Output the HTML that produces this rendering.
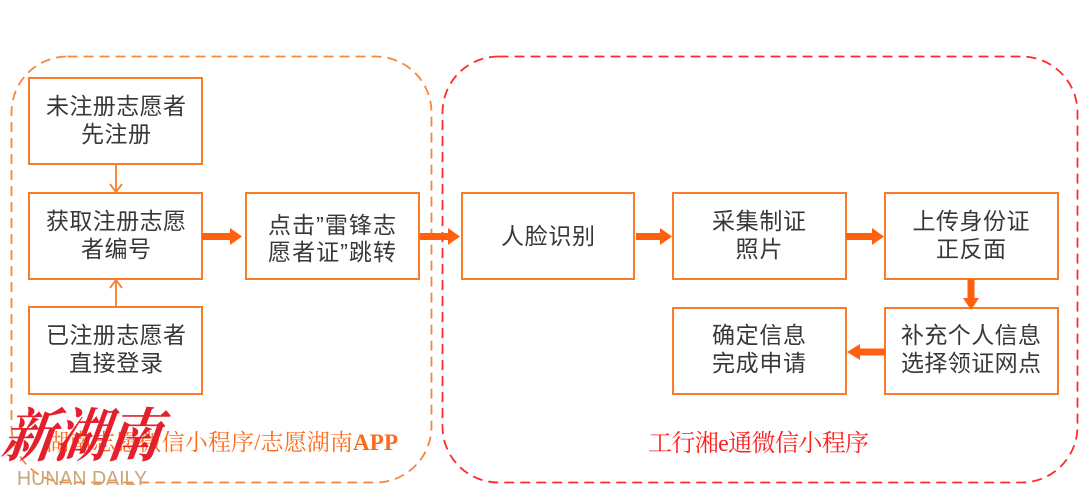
<!DOCTYPE html>
<html><head><meta charset="utf-8"><style>
html,body{margin:0;padding:0;background:#fff;}
svg{display:block;}
.bt{font-family:"Liberation Sans","Noto Sans CJK SC",sans-serif;font-size:23px;fill:#383838;}
</style></head><body>
<svg width="1080" height="486" viewBox="0 0 1080 486" xmlns="http://www.w3.org/2000/svg">
<rect width="1080" height="486" fill="#fff"/>
<!-- containers -->
<rect x="11.5" y="56.5" width="420" height="426" rx="56" ry="56" fill="none" stroke="#F5883A" stroke-width="1.8" stroke-dasharray="10,6"/>
<rect x="442.5" y="56.5" width="635" height="426" rx="56" ry="56" fill="none" stroke="#FF2A2A" stroke-width="1.8" stroke-dasharray="10,6"/>

<!-- boxes -->
<g fill="#fff" stroke="#F97C2A" stroke-width="2">
<rect x="29" y="78" width="173" height="86"/>
<rect x="29" y="193" width="173" height="86"/>
<rect x="29" y="307" width="173" height="87"/>
<rect x="246" y="193" width="173" height="86"/>
<rect x="462" y="193" width="172" height="86"/>
<rect x="673" y="193" width="173" height="86"/>
<rect x="885" y="193" width="173" height="86"/>
<rect x="885" y="308" width="173" height="86"/>
<rect x="673" y="308" width="173" height="86"/>
</g>

<!-- thin arrows -->
<g stroke="#F97C2A" stroke-width="1.8" fill="none">
<line x1="116" y1="164" x2="116" y2="192"/>
<polyline points="110,184 116,192 122,184"/>
<line x1="116" y1="307" x2="116" y2="280"/>
<polyline points="110,288 116,280 122,288"/>
</g>

<!-- thick arrows -->
<g fill="#FF6010">
<rect x="202" y="233" width="30" height="7"/><polygon points="230,228 242,236.5 230,245"/>
<rect x="420" y="233" width="30" height="7"/><polygon points="448,228 460,236.5 448,245"/>
<rect x="636" y="233" width="26" height="7"/><polygon points="660,228 672,236.5 660,245"/>
<rect x="846" y="233" width="28" height="7"/><polygon points="872,228 884,236.5 872,245"/>
<rect x="967.5" y="279" width="7" height="21"/><polygon points="963,298 979,298 971,310"/>
<rect x="858" y="348.5" width="27" height="7"/><polygon points="860,344 847,352 860,360"/>
</g>

<!-- box text -->
<g class="bt" text-anchor="middle">
<text x="116" y="114" textLength="140" lengthAdjust="spacing">未注册志愿者</text>
<text x="116" y="142" textLength="70" lengthAdjust="spacing">先注册</text>
<text x="116" y="229" textLength="140" lengthAdjust="spacing">获取注册志愿</text>
<text x="116" y="257" textLength="70" lengthAdjust="spacing">者编号</text>
<text x="116" y="343" textLength="140" lengthAdjust="spacing">已注册志愿者</text>
<text x="116" y="371" textLength="94" lengthAdjust="spacing">直接登录</text>
<text x="332" y="233" textLength="128" lengthAdjust="spacing">点击”雷锋志</text>
<text x="332" y="260" textLength="128" lengthAdjust="spacing">愿者证”跳转</text>
<text x="548" y="244" textLength="94" lengthAdjust="spacing">人脸识别</text>
<text x="759" y="229" textLength="94" lengthAdjust="spacing">采集制证</text>
<text x="759" y="257" textLength="47" lengthAdjust="spacing">照片</text>
<text x="971" y="229" textLength="117" lengthAdjust="spacing">上传身份证</text>
<text x="971" y="257" textLength="70" lengthAdjust="spacing">正反面</text>
<text x="971" y="343" textLength="140" lengthAdjust="spacing">补充个人信息</text>
<text x="971" y="371" textLength="140" lengthAdjust="spacing">选择领证网点</text>
<text x="759" y="343" textLength="94" lengthAdjust="spacing">确定信息</text>
<text x="759" y="371" textLength="94" lengthAdjust="spacing">完成申请</text>
</g>

<!-- container labels -->
<text x="46" y="450" font-family="'Liberation Serif','Noto Serif CJK SC',serif" font-size="23" fill="#FF6A1A" textLength="352" lengthAdjust="spacing">湖南志愿微信小程序/志愿湖南<tspan font-weight="bold">APP</tspan></text>
<text x="648" y="451" font-family="'Liberation Serif','Noto Serif CJK SC',serif" font-size="24" fill="#FF2020" textLength="221" lengthAdjust="spacing">工行湘e通微信小程序</text>

<!-- logo -->
<text x="2" y="456" font-family="'Noto Serif CJK SC','WenQuanYi Zen Hei',serif" font-size="58" font-weight="bold" font-style="italic" fill="#E3202B" textLength="158" lengthAdjust="spacingAndGlyphs" transform="skewX(-8) translate(62,0)">新湖南</text>
<text x="17" y="485" font-family="'Liberation Sans','DejaVu Sans',sans-serif" font-size="20" fill="#C9A577" textLength="130" lengthAdjust="spacingAndGlyphs">HUNAN DAILY</text>
</svg>
</body></html>
